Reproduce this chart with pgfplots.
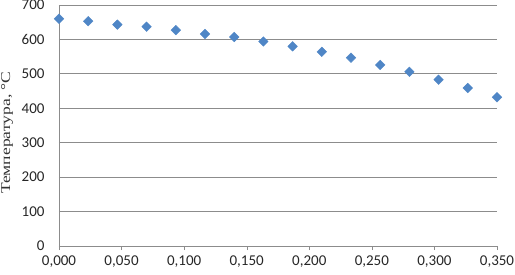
\documentclass[border=0pt]{standalone}
\usepackage{pgfplots}
\pgfplotsset{compat=1.18}
\usepackage{graphicx}
\usepackage{fontspec}
\setmainfont{Carlito}
\newfontfamily\serifcyr{Liberation Serif}
\definecolor{ptblue}{HTML}{4F86C6}
\definecolor{gridgray}{HTML}{8C8C8C}
\begin{document}
\begin{tikzpicture}[x=1pt,y=1pt]
\begin{axis}[
  scale only axis,
  width=438pt, height=241pt,
  at={(59pt,28pt)}, anchor=south west,
  xmin=0, xmax=0.35, ymin=0, ymax=700,
  xtick={0,0.05,...,0.35},
  ytick={0,100,...,700},
  axis lines=left,
  axis line style={gridgray, -},
  ymajorgrids, grid style={gridgray, line width=0.8pt},
  x tick style={gridgray}, major tick length=4pt,
  xtick pos=bottom, tick align=outside,
  y tick style={draw=none},
  xticklabel style={/pgf/number format/.cd, fixed, zerofill, precision=3, use comma, assume math mode=true},
  yticklabel style={/pgf/number format/assume math mode=true},
  tick label style={font=\fontsize{15}{17}\selectfont, text=black!85},
  xticklabel shift=2pt,
  yticklabel shift=7pt,
  ylabel={\serifcyr\scalebox{1.3}[1]{Температура, °С}},
  every axis y label/.style={at={(rel axis cs:0,0.47)}, rotate=90, anchor=center, yshift=52pt, font=\fontsize{13.5}{16}\selectfont, text=black!80, inner sep=0pt},
  clip=false,
]
\addplot[only marks, mark=square*, mark size=3.4pt, mark options={rotate=45, fill=ptblue, draw=ptblue}] coordinates {
(0.00000,660) (0.02333,653) (0.04667,643) (0.07000,637)
(0.09333,627) (0.11667,616) (0.14000,607) (0.16333,594)
(0.18667,580) (0.21000,564) (0.23333,547) (0.25667,526)
(0.28000,506) (0.30333,483) (0.32667,459) (0.35000,432)
};
\end{axis}
\pgfresetboundingbox
\useasboundingbox (0,0) rectangle (515pt,274pt);
\end{tikzpicture}
\end{document}
